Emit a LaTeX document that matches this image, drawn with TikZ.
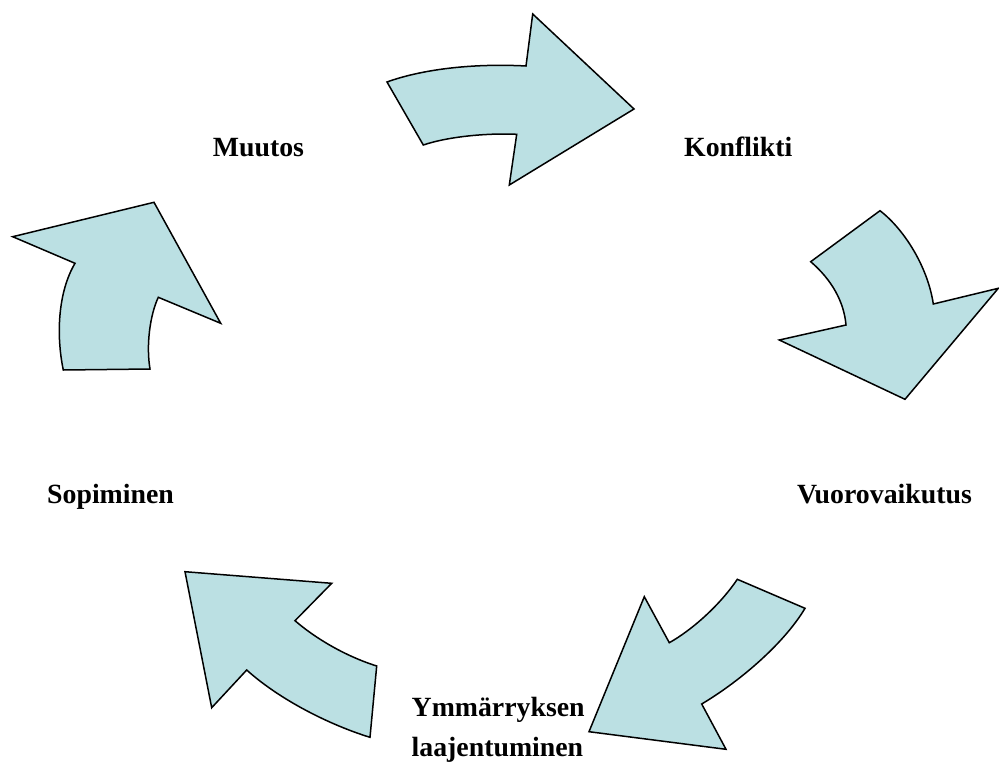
\documentclass[tikz,border=0pt]{standalone}
\usepackage{fontspec}
\setmainfont{Liberation Serif}
\definecolor{arrowfill}{RGB}{187,224,227}
\begin{document}
\begin{tikzpicture}[x=1bp,y=-1bp,
  bigarrow/.style={fill=arrowfill,draw=black,line width=1.5bp,line join=miter},
  lbl/.style={anchor=base west,inner sep=0pt,font=\fontsize{27.8bp}{33bp}\selectfont\bfseries}]
\useasboundingbox (0,0) rectangle (999,771);
% top arrow
\draw[bigarrow] (387,82) .. controls (420,70) and (470,63) .. (526,66) -- (532.7,14) -- (634,109)
  -- (509.3,185) -- (516.7,134.3) .. controls (490,133) and (450,136) .. (423.3,145) -- cycle;
% right arrow
\draw[bigarrow] (880,210.7) .. controls (905,230) and (928,268) .. (933.3,304) -- (998.3,288.3)
  -- (905,399.3) -- (779.3,340) -- (846,325) .. controls (844,302) and (832,280) .. (810.7,261.7) -- cycle;
% bottom right arrow
\draw[bigarrow] (737.3,579.3) -- (805,608.3) .. controls (785,642) and (742,680) .. (701.7,704)
  -- (726,749.3) -- (589,731.7) -- (644.3,596.7) -- (669.3,642.7) .. controls (692,630) and (720,605) .. cycle;
% bottom left arrow
\draw[bigarrow] (185,571.7) -- (331.7,583.3) -- (295,620.7) .. controls (315,638) and (345,656) .. (376.7,666)
  -- (370,737.3) .. controls (330,725) and (280,700) .. (246.7,670) -- (211.7,707.7) -- cycle;
% left arrow
\draw[bigarrow] (12.7,236.7) -- (154,202.3) -- (220.7,323.3) -- (158.3,297.3)
  .. controls (150,315) and (146,345) .. (150,369) -- (63.3,370)
  .. controls (56,335) and (58,292) .. (75,263.3) -- cycle;
% labels
\node[lbl] (muutos) at (212.7,156.7) {Muutos};
\node[lbl] (konflikti) at (684,156.7) {Konflikti};
\node[lbl] (vuoro) at (797,503.3) {Vuorovaikutus};
\node[lbl] (sopiminen) at (47,503.3) {Sopiminen};
\node[lbl] (ymm) at (411.5,716.7) {Ymmärryksen};
\node[lbl] (laaj) at (411.5,756.7) {laajentuminen};
\end{tikzpicture}
\end{document}
